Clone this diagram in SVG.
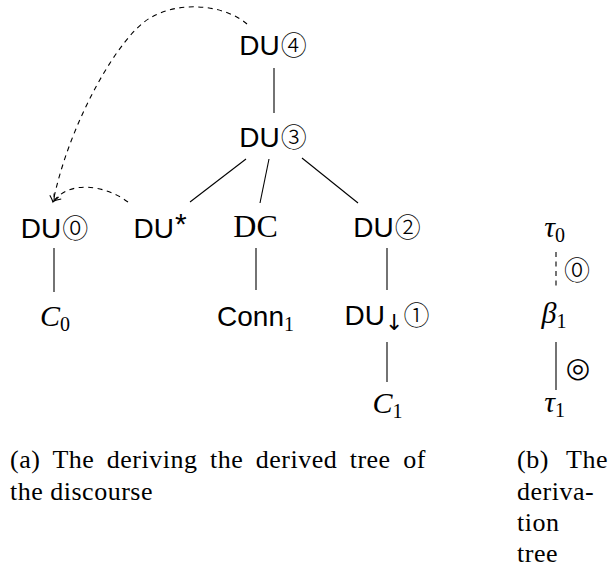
<svg xmlns="http://www.w3.org/2000/svg" width="614" height="570" viewBox="0 0 614 570">
<style>
.sans{font-family:"Liberation Sans",Arial,sans-serif;font-size:28px;fill:#000}
.circ{font-family:"Noto Sans CJK JP","DejaVu Sans",sans-serif;font-size:26px;font-weight:300}
.ring{font-family:"DejaVu Sans",sans-serif;font-size:28px}
.rm{font-family:"Liberation Serif","Times New Roman",serif;fill:#000}
.it{font-family:"Liberation Serif","Times New Roman",serif;font-style:italic;font-size:30px;fill:#000}
.sub{font-style:normal;font-size:20px}
.cap{font-family:"Liberation Serif","Times New Roman",serif;font-size:26px;letter-spacing:0.5px;fill:#000}
.edge{stroke:#000;stroke-width:1.1;fill:none}
.dash{stroke:#000;stroke-width:1.1;fill:none;stroke-dasharray:5 4.5}
</style>
<defs>
<marker id="to" viewBox="-8 -6 10 12" markerWidth="10" markerHeight="12" refX="0" refY="0" orient="auto" markerUnits="userSpaceOnUse">
<path d="M-6,-4.5 Q-2,-1 0,0 Q-2,1 -6,4.5" fill="none" stroke="#000" stroke-width="1.1"/>
</marker>
</defs>

<g id="connectors">
<line class="edge" x1="274" y1="68" x2="274" y2="113"/>
<line class="edge" x1="246" y1="159" x2="190" y2="202"/>
<line class="edge" x1="269" y1="159" x2="260" y2="203"/>
<line class="edge" x1="302" y1="158" x2="358" y2="203"/>
<line class="edge" x1="54" y1="248" x2="54" y2="292"/>
<line class="edge" x1="256" y1="248" x2="256" y2="290"/>
<line class="edge" x1="387" y1="248" x2="387" y2="290"/>
<line class="edge" x1="387" y1="342" x2="387" y2="382"/>
<path class="dash" d="M247,24 C225,5 180,0 150,18 C120,35 70,120 53,202" marker-end="url(#to)"/>
<path class="dash" d="M128,202 C105,185 70,180 54,201" marker-end="url(#to)"/>
<line class="dash" x1="556" y1="252" x2="556" y2="290"/>
<line class="edge" x1="556" y1="342" x2="556" y2="390"/>
</g>

<g id="du4"><text class="sans" x="273" y="55" text-anchor="middle">DU<tspan class="circ" dx="1">④</tspan></text></g>
<g id="du3"><text class="sans" x="273" y="147" text-anchor="middle">DU<tspan class="circ" dx="1">③</tspan></text></g>
<g id="du0"><text class="sans" x="54.5" y="238" text-anchor="middle">DU<tspan class="circ" dx="1">⓪</tspan></text></g>
<g id="dustar"><text class="sans" x="160" y="238" text-anchor="middle">DU<tspan font-size="30" dx="1" dy="-4">*</tspan></text></g>
<g id="dc"><text class="rm" x="255.5" y="237" font-size="32" text-anchor="middle">DC</text></g>
<g id="du2"><text class="sans" x="387" y="237" text-anchor="middle">DU<tspan class="circ" dx="1">②</tspan></text></g>
<g id="c0"><text class="it" x="55" y="326" text-anchor="middle">C<tspan class="sub" dy="5">0</tspan></text></g>
<g id="conn1"><text class="sans" x="255.5" y="326" text-anchor="middle">Conn<tspan class="rm" font-size="20" dy="5">1</tspan></text></g>
<g id="du1"><text class="sans" x="387" y="325" text-anchor="middle">DU<tspan font-family="DejaVu Sans, sans-serif" font-size="22" dy="5">↓</tspan><tspan class="circ" dy="-5">①</tspan></text></g>
<g id="c1"><text class="it" x="387.5" y="413" text-anchor="middle">C<tspan class="sub" dy="5">1</tspan></text></g>

<g id="tau0"><text class="it" x="554.5" y="237" text-anchor="middle">τ<tspan class="sub" dy="5">0</tspan></text></g>
<g id="beta1"><text class="it" x="554" y="323" text-anchor="middle">β<tspan class="sub" dy="5">1</tspan></text></g>
<g id="tau1"><text class="it" x="554.5" y="412" text-anchor="middle">τ<tspan class="sub" dy="5">1</tspan></text></g>
<g id="lab0"><text class="circ" x="577" y="280" text-anchor="middle">⓪</text></g>
<g id="labring"><text class="ring" x="578" y="377" text-anchor="middle">◎</text></g>

<g id="caption-a">
<text class="cap" x="10" y="468" word-spacing="5.5">(a) The deriving the derived tree of</text>
<text class="cap" x="10" y="500">the discourse</text>
</g>
<g id="caption-b">
<text class="cap" x="517" y="468">(b)</text>
<text class="cap" x="608" y="468" text-anchor="end">The</text>
<text class="cap" x="517" y="500">deriva-</text>
<text class="cap" x="517" y="531">tion</text>
<text class="cap" x="517" y="562">tree</text>
</g>
</svg>
